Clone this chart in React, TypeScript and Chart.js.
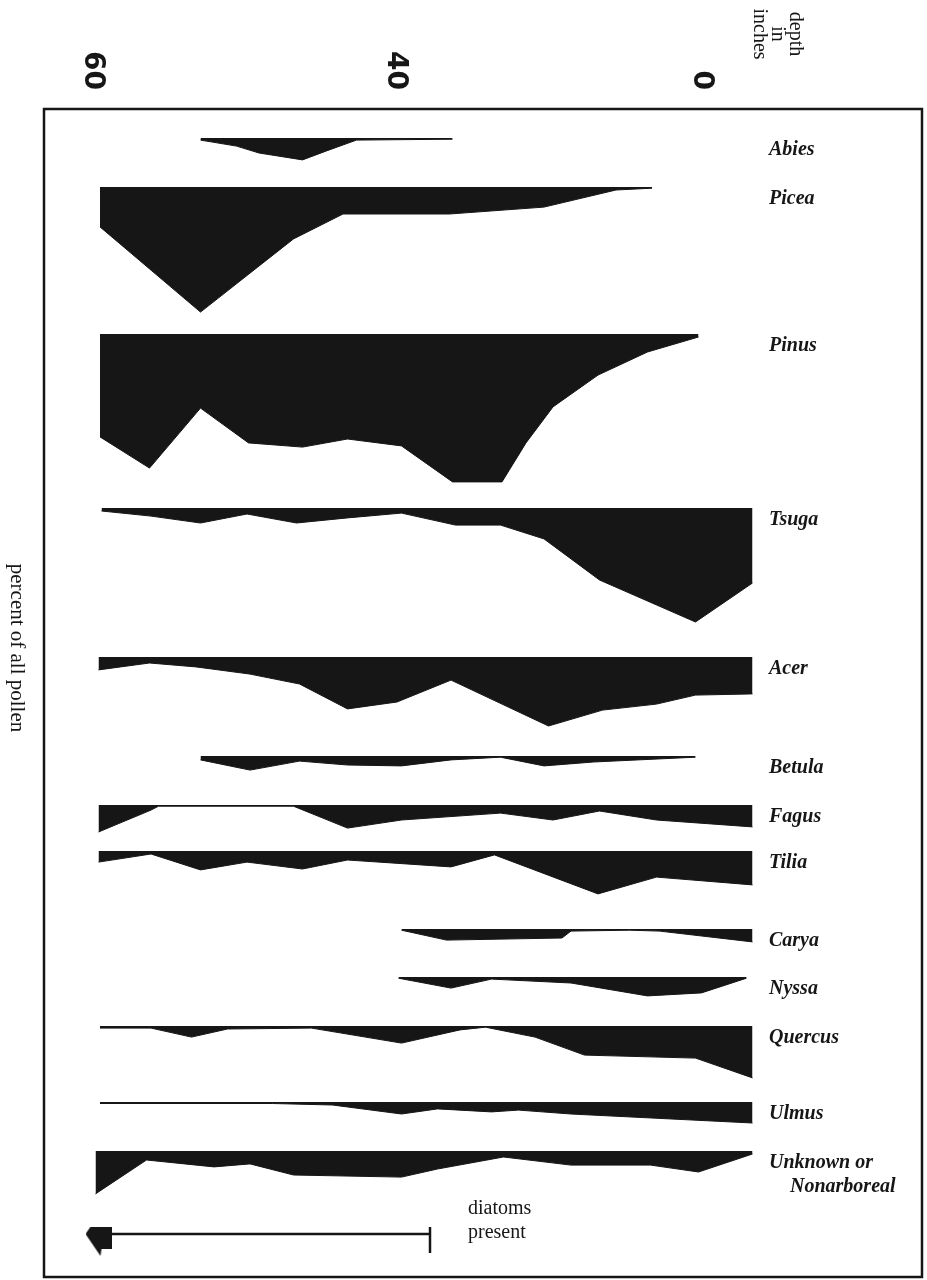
import { useEffect, useRef } from "react";
import { Chart, registerables } from "chart.js";

Chart.register(...registerables);

// ---------- data (depth in chart units, value = percent of all pollen) ----------
const SPECIES = [
  "Abies", "Picea", "Pinus", "Tsuga", "Acer", "Betula", "Fagus",
  "Tilia", "Carya", "Nyssa", "Quercus", "Ulmus", "Unknown or",
];
const SECOND_LINE = "Nonarboreal";

const ABIES_DEPTH = [53.3, 50.9, 49.4, 46.5, 44.9, 42.9, 36.5];
const ABIES_PCT = [0.7, 2.7, 5, 7.3, 4.3, 0.7, 0.4];

const PICEA_DEPTH = [60, 53.3, 47.1, 43.8, 36.7, 30.4, 25.6, 23.2];
const PICEA_PCT = [13.3, 41.7, 17.3, 9, 9, 6.7, 1, 0.4];

const PINUS_DEPTH = [60, 56.7, 53.3, 50.1, 46.5, 43.5, 39.9, 36.5, 33.2, 31.6, 29.8, 26.8, 23.5, 20.1];
const PINUS_PCT = [34.3, 44.7, 24.7, 36.3, 37.7, 35, 37.3, 49.3, 49.3, 36.3, 24.3, 13.7, 6, 1];

const TSUGA_DEPTH = [59.9, 56.6, 53.3, 50.2, 46.9, 43.5, 39.9, 36.3, 33.3, 30.4, 26.7, 20.3, 16.5];
const TSUGA_PCT = [1, 2.7, 5, 2, 5, 3.3, 1.7, 5.7, 5.7, 10.3, 24, 38, 25];

const ACER_DEPTH = [60.1, 56.7, 53.6, 50, 46.7, 43.5, 40.2, 36.6, 30.1, 26.5, 22.9, 20.3, 16.5];
const ACER_PCT = [4.3, 2, 3.3, 5.7, 9, 17.3, 15, 7.7, 23, 17.7, 15.7, 12.7, 12.3];

const BETULA_DEPTH = [53.3, 50, 46.7, 43.5, 39.9, 36.6, 33.3, 30.4, 27.1, 20.3];
const BETULA_PCT = [1.3, 4.7, 1.7, 3, 3.3, 1.3, 0.4, 3.3, 2, 0.4];

const FAGUS_DEPTH = [60.1, 56.6, 56.1, 47.1, 43.5, 39.9, 33.3, 29.8, 26.7, 22.9, 16.5];
const FAGUS_PCT = [9, 1.7, 0.4, 0.4, 7.7, 5, 2.7, 5, 2, 5, 7.3];

const TILIA_DEPTH = [60.1, 56.6, 53.3, 50.2, 46.5, 43.5, 36.6, 33.7, 26.8, 22.9, 16.5];
const TILIA_PCT = [3.7, 1, 6.3, 3.7, 6, 3, 5.3, 1.3, 14.3, 8.7, 11.3];

const CARYA_DEPTH = [39.9, 36.9, 29.2, 28.6, 24.7, 22.7, 16.5];
const CARYA_PCT = [0.4, 3.7, 3, 0.7, 0.4, 0.7, 4.3];

const NYSSA_DEPTH = [40.1, 36.6, 33.9, 28.6, 23.5, 19.9, 16.9];
const NYSSA_PCT = [0.4, 3.7, 0.7, 2, 6.3, 5.3, 0.4];

const QUERCUS_DEPTH = [60, 56.6, 53.9, 51.5, 45.9, 39.9, 36, 34.3, 31, 27.7, 20.3, 16.5];
const QUERCUS_PCT = [0.7, 0.7, 3.7, 1, 0.7, 5.7, 1.3, 0.4, 3.7, 9.7, 10.7, 17.3];

const ULMUS_DEPTH = [60, 48.5, 44.5, 39.9, 37.5, 33.9, 32.1, 28.6, 16.5];
const ULMUS_PCT = [0.5, 0.5, 1, 4, 2.3, 3.3, 2.7, 4, 7];

const UNKNOWN_DEPTH = [60.3, 56.9, 52.4, 50, 47.1, 39.9, 37.5, 33.1, 28.6, 23.3, 20.1, 16.5];
const UNKNOWN_PCT = [14.3, 3, 5.3, 4.3, 8, 8.7, 6, 2, 4.7, 4.7, 7, 1];

const DIATOM_DEPTH = [60.1, 38];

const DEPTH_TICK_VALUES = [60.5, 40.3, 19.9];
const DEPTH_TICK_LABELS = ["60", "40", "0"];

const SERIES = [
  [ABIES_DEPTH, ABIES_PCT], [PICEA_DEPTH, PICEA_PCT], [PINUS_DEPTH, PINUS_PCT],
  [TSUGA_DEPTH, TSUGA_PCT], [ACER_DEPTH, ACER_PCT], [BETULA_DEPTH, BETULA_PCT],
  [FAGUS_DEPTH, FAGUS_PCT], [TILIA_DEPTH, TILIA_PCT], [CARYA_DEPTH, CARYA_PCT],
  [NYSSA_DEPTH, NYSSA_PCT], [QUERCUS_DEPTH, QUERCUS_PCT], [ULMUS_DEPTH, ULMUS_PCT],
  [UNKNOWN_DEPTH, UNKNOWN_PCT],
];

// ---------- layout ----------
const W = 927;
const H = 1280;
const INK = "#161616";
const FRAME = { left: 44, top: 109, right: 922, bottom: 1277 };
const PX_PER_DEPTH = 15;
const X_REF_PX = 100; // pixel of depth 60
const BASELINE_PX = [138, 187, 334, 508, 657, 756, 805, 851, 929, 977, 1026, 1102, 1151, 1234];
const PX_PER_PCT = 3;
const GAP = 7;

function panelRange(i: number) {
  const n = BASELINE_PX.length;
  const top = i === 0 ? FRAME.top : BASELINE_PX[i] - GAP;
  const bottom = i === n - 1 ? FRAME.bottom : BASELINE_PX[i + 1] - GAP;
  const min = -(BASELINE_PX[i] - top) / PX_PER_PCT;
  const max = (bottom - BASELINE_PX[i]) / PX_PER_PCT;
  return { min, max, weight: max - min };
}

function makeArrow(): HTMLCanvasElement {
  const c = document.createElement("canvas");
  c.width = 26;
  c.height = 46;
  const g = c.getContext("2d")!;
  g.fillStyle = INK;
  g.beginPath();
  g.moveTo(0, 23);
  g.lineTo(15, 1);
  g.lineTo(16, 8);
  g.lineTo(26, 8);
  g.lineTo(26, 38);
  g.lineTo(16, 38);
  g.lineTo(15, 45);
  g.closePath();
  g.fill();
  return c;
}

export default function App() {
  const ref = useRef<HTMLCanvasElement | null>(null);

  useEffect(() => {
    if (!ref.current) return;
    document.documentElement.style.overflow = "hidden";
    document.body.style.overflow = "hidden";
    const xMax = 60 + (X_REF_PX - FRAME.left) / PX_PER_DEPTH;
    const xMin = 60 - (FRAME.right - X_REF_PX) / PX_PER_DEPTH;

    const scales: any = {
      x: {
        type: "linear",
        position: "top",
        min: xMin,
        max: xMax,
        reverse: true,
        display: false,
      },
    };
    BASELINE_PX.forEach((_, i) => {
      const r = panelRange(i);
      scales["y" + i] = {
        type: "linear",
        axis: "y",
        position: "right",
        stack: "panels",
        stackWeight: r.weight,
        min: r.min,
        max: r.max,
        reverse: true,
        offset: false,
        display: false,
      };
    });

    const datasets: any[] = SERIES.map(([depth, pct], i) => ({
      type: "line",
      label: SPECIES[i],
      xAxisID: "x",
      yAxisID: "y" + i,
      data: depth.map((d, j) => ({ x: d, y: pct[j] })),
      borderColor: INK,
      backgroundColor: INK,
      borderWidth: 1,
      borderJoinStyle: "round",
      pointRadius: 0,
      tension: 0,
      fill: { value: 0 },
    }));

    const arrow = makeArrow();
    datasets.push({
      type: "line",
      label: "diatoms present",
      xAxisID: "x",
      yAxisID: "y" + (BASELINE_PX.length - 1),
      data: DIATOM_DEPTH.map((d) => ({ x: d, y: 0 })),
      borderColor: INK,
      backgroundColor: INK,
      borderWidth: 2.5,
      fill: false,
      pointStyle: [arrow, "line"],
      pointRadius: [13, 19],
      pointRotation: [0, 90],
      pointBorderWidth: 2.5,
      pointBorderColor: INK,
      pointBackgroundColor: INK,
    });

    const overlay = {
      id: "overlay",
      afterDraw(chart: any) {
        const ctx = chart.ctx as CanvasRenderingContext2D;
        const a = chart.chartArea;
        ctx.save();
        ctx.strokeStyle = INK;
        ctx.lineWidth = 2.5;
        ctx.strokeRect(a.left, a.top, a.right - a.left, a.bottom - a.top);

        ctx.fillStyle = INK;
        ctx.textAlign = "left";
        ctx.textBaseline = "alphabetic";
        ctx.font = 'italic bold 20px "Liberation Serif"';
        SPECIES.forEach((name, i) => {
          const y = chart.scales["y" + i].getPixelForValue(0) + 17;
          ctx.fillText(name, 769, y);
          if (i === SPECIES.length - 1) ctx.fillText(SECOND_LINE, 790, y + 24);
        });

        const rot = (text: string, x: number, y: number, align: CanvasTextAlign, font: string) => {
          ctx.save();
          ctx.translate(x, y);
          ctx.rotate(Math.PI / 2);
          ctx.font = font;
          ctx.textAlign = align;
          ctx.textBaseline = "middle";
          ctx.fillText(text, 0, 0);
          ctx.restore();
        };
        const xs = chart.scales.x;
        DEPTH_TICK_VALUES.forEach((v, i) => {
          rot(DEPTH_TICK_LABELS[i], xs.getPixelForValue(v), 90, "right", 'bold 28px "DejaVu Sans"');
        });
        const serif = '20px "Liberation Serif"';
        rot("depth", 795, 34, "center", serif);
        rot("in", 777, 34, "center", serif);
        rot("inches", 759, 34, "center", serif);
        rot("percent of all pollen", 17, 648, "center", '21px "Liberation Serif"');

        ctx.font = serif;
        ctx.textAlign = "left";
        ctx.textBaseline = "alphabetic";
        ctx.fillText("diatoms", 468, 1214);
        ctx.fillText("present", 468, 1238);
        ctx.restore();
      },
    };

    const chart = new Chart(ref.current, {
      type: "line",
      data: { datasets },
      options: {
        animation: false,
        responsive: false,
        devicePixelRatio: 1,
        layout: {
          autoPadding: false,
          padding: {
            left: FRAME.left,
            top: FRAME.top,
            right: W - FRAME.right,
            bottom: H - FRAME.bottom,
          },
        },
        plugins: { legend: { display: false }, tooltip: { enabled: false } },
        scales,
      },
      plugins: [overlay],
    } as any);
    return () => chart.destroy();
  }, []);

  return (
    <div
      style={{
        position: "fixed",
        left: 0,
        top: 0,
        width: W,
        height: H,
        overflow: "hidden",
        background: "#fff",
      }}
    >
      <canvas ref={ref} width={W} height={H} style={{ display: "block", width: W, height: H }} />
    </div>
  );
}
